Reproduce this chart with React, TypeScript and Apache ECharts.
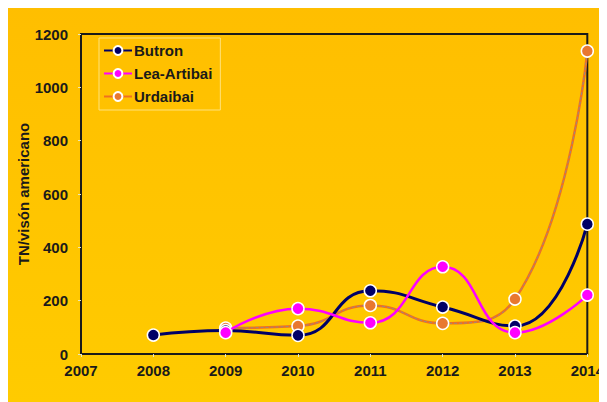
import React, { useEffect, useRef } from "react";
import * as echarts from "echarts";

const years = [2008, 2009, 2010, 2011, 2012, 2013, 2014];
const butron = [71, 88, 70, 237, 176, 105, 487];
const leaYears = [2009, 2010, 2011, 2012, 2013, 2014];
const leaArtibai = [80, 170, 117, 327, 80, 221];
const urdYears = [2009, 2010, 2011, 2012, 2013, 2014];
const urdaibai = [97, 105, 182, 115, 206, 1136];
const yTicks = [0, 200, 400, 600, 800, 1000, 1200];

const pairs = (xs: number[], ys: number[]) => xs.map((x, i) => [x, ys[i]]);

export default function App() {
  const ref = useRef<HTMLDivElement>(null);
  useEffect(() => {
    if (!ref.current) return;
    const chart = echarts.init(ref.current, null, { renderer: "svg" });
    const font = "Liberation Sans, Arial, sans-serif";
    const marker = (color: string) => ({
      color,
      borderColor: "#ffffff",
      borderWidth: 1.5,
    });
    chart.setOption({
      animation: false,
      backgroundColor: new echarts.graphic.LinearGradient(0, 0, 0, 1, [
        { offset: 0, color: "#FFBE00" },
        { offset: 1, color: "#FFCB00" },
      ]),
      graphic: [
        {
          type: "rect",
          shape: { x: 7, y: 7, width: 620, height: 420 },
          style: { fill: "none", stroke: "#A67A00", lineWidth: 1.5 },
          silent: true,
        },
      ],
      grid: {
        left: 81,
        top: 34,
        right: 18,
        bottom: 48,
        show: true,
        borderColor: "#1a1a1a",
        borderWidth: 2,
        backgroundColor: "transparent",
      },
      legend: {
        left: 99,
        top: 38,
        orient: "vertical",
        itemGap: 8,
        itemWidth: 28,
        itemHeight: 11,
        padding: [5, 8, 6, 4],
        borderColor: "#FFE27A",
        borderWidth: 1,
        data: ["Butron", "Lea-Artibai", "Urdaibai"],
        textStyle: {
          fontFamily: font,
          fontWeight: "bold",
          fontSize: 15,
          color: "#1a1a1a",
          padding: [0, 0, 0, -3],
        },
      },
      xAxis: {
        type: "value",
        min: 2007,
        max: 2014,
        interval: 1,
        splitLine: { show: false },
        axisLine: { show: true, lineStyle: { color: "#1a1a1a", width: 2 } },
        axisTick: { show: true, length: 3, lineStyle: { color: "#e8e8c0" } },
        axisLabel: {
          margin: 9,
          fontFamily: font,
          fontWeight: "bold",
          fontSize: 15,
          color: "#1a1a1a",
          formatter: (v: number) => String(v),
        },
      },
      yAxis: {
        type: "value",
        min: yTicks[0],
        max: yTicks[yTicks.length - 1],
        interval: 200,
        splitLine: { show: false },
        axisLine: { show: true, lineStyle: { color: "#1a1a1a", width: 2 } },
        axisTick: { show: true, length: 3, lineStyle: { color: "#e8e8c0" } },
        axisLabel: {
          margin: 13,
          fontFamily: font,
          fontWeight: "bold",
          fontSize: 15,
          color: "#1a1a1a",
          formatter: (v: number) => String(v),
        },
        name: "TN/visón americano",
        nameLocation: "middle",
        nameGap: 50,
        nameMoveOverlap: false,
        nameTextStyle: {
          fontFamily: font,
          fontWeight: "bold",
          fontSize: 15,
          color: "#1a1a1a",
        },
      },
      series: [
        {
          name: "Butron",
          type: "line",
          smooth: 0.5,
          data: pairs(years, butron),
          symbol: "circle",
          symbolSize: 12,
          lineStyle: { color: "#000066", width: 3 },
          itemStyle: marker("#000066"),
          z: 3,
        },
        {
          name: "Lea-Artibai",
          type: "line",
          smooth: 0.5,
          data: pairs(leaYears, leaArtibai),
          symbol: "circle",
          symbolSize: 12,
          lineStyle: { color: "#FF00FF", width: 2.5 },
          itemStyle: marker("#FF00FF"),
          z: 4,
        },
        {
          name: "Urdaibai",
          type: "line",
          smooth: 0.5,
          data: pairs(urdYears, urdaibai),
          symbol: "circle",
          symbolSize: 12,
          lineStyle: { color: "#F07020", width: 2.5 },
          itemStyle: marker("#E87830"),
          z: 2,
        },
        {
          name: "Urdaibai-overlay",
          type: "line",
          smooth: 0.5,
          data: pairs(urdYears, urdaibai),
          symbol: "none",
          lineStyle: { color: "#9a8a80", width: 1, type: [3, 2] },
          z: 2,
          silent: true,
        },
      ],
    });
    return () => chart.dispose();
  }, []);
  return <div ref={ref} style={{ width: 607, height: 402, marginLeft: -8, marginTop: -8 }} />;
}
